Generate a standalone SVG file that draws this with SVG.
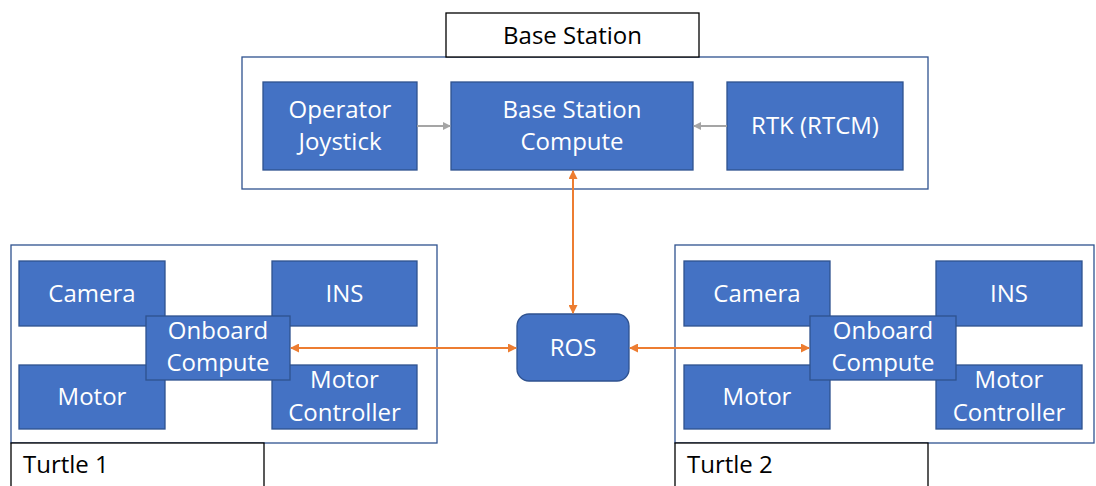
<svg xmlns="http://www.w3.org/2000/svg" width="1096" height="486" viewBox="0 0 1096 486">
<style>
.cont{fill:#fff;stroke:#2F528F;stroke-width:1.3}
.lbl{fill:#fff;stroke:#000;stroke-width:1.3}
.node{fill:#4472C4;stroke:#2F528F;stroke-width:1.3}
.t{font-family:"Open Sans","Noto Sans",sans-serif;font-size:24px;fill:#fff;text-anchor:middle}
.k{font-family:"Open Sans","Noto Sans",sans-serif;font-size:24px;fill:#000}
.g{stroke:#A5A5A5;stroke-width:2;fill:none}
.o{stroke:#ED7D31;stroke-width:2;fill:none}
</style>
<defs>
<marker id="ag" markerWidth="8" markerHeight="8" refX="7" refY="4" orient="auto" markerUnits="userSpaceOnUse"><path d="M0,0 L8,4 L0,8 z" fill="#A5A5A5"/></marker>
<marker id="ao" markerWidth="9" markerHeight="9" refX="8" refY="4.5" orient="auto-start-reverse" markerUnits="userSpaceOnUse"><path d="M0,0 L9,4.5 L0,9 z" fill="#ED7D31"/></marker>
</defs>
<rect width="1096" height="486" fill="#fff"/>

<g id="base-station">
<rect class="cont" x="242" y="57" width="686" height="132"/>
<rect class="lbl" x="446" y="13" width="253" height="44"/>
<text class="k" x="572.5" y="44" text-anchor="middle">Base Station</text>
</g>
<g id="operator-joystick">
<rect class="node" x="263" y="82" width="154" height="88"/>
<text class="t" x="340" y="118">Operator</text>
<text class="t" x="340" y="150">Joystick</text>
</g>
<g id="base-station-compute">
<rect class="node" x="451" y="82" width="242" height="88"/>
<text class="t" x="572" y="118">Base Station</text>
<text class="t" x="572" y="150">Compute</text>
</g>
<g id="rtk">
<rect class="node" x="727" y="82" width="176" height="88"/>
<text class="t" x="815" y="134">RTK (RTCM)</text>
</g>

<g id="turtle-1">
<rect class="cont" x="11" y="245" width="426" height="198"/>
<rect class="lbl" x="11" y="443" width="253" height="50"/>
<text class="k" x="23" y="473">Turtle 1</text>
</g>
<g id="camera-1"><rect class="node" x="19" y="261" width="146" height="65"/><text class="t" x="92" y="302">Camera</text></g>
<g id="ins-1"><rect class="node" x="272" y="261" width="145" height="65"/><text class="t" x="344.5" y="302">INS</text></g>
<g id="motor-1"><rect class="node" x="19" y="365" width="146" height="64"/><text class="t" x="92" y="405">Motor</text></g>
<g id="motor-controller-1"><rect class="node" x="272" y="365" width="145" height="64"/><text class="t" x="344.5" y="388">Motor</text><text class="t" x="344.5" y="421">Controller</text></g>
<g id="onboard-compute-1"><rect class="node" x="146" y="316" width="144" height="64"/><text class="t" x="218" y="339">Onboard</text><text class="t" x="218" y="371">Compute</text></g>

<g id="turtle-2">
<rect class="cont" x="675" y="245" width="419" height="198"/>
<rect class="lbl" x="675" y="443" width="253" height="50"/>
<text class="k" x="687" y="473">Turtle 2</text>
</g>
<g id="camera-2"><rect class="node" x="684" y="261" width="146" height="65"/><text class="t" x="757" y="302">Camera</text></g>
<g id="ins-2"><rect class="node" x="936" y="261" width="146" height="65"/><text class="t" x="1009" y="302">INS</text></g>
<g id="motor-2"><rect class="node" x="684" y="365" width="146" height="64"/><text class="t" x="757" y="405">Motor</text></g>
<g id="motor-controller-2"><rect class="node" x="936" y="365" width="146" height="64"/><text class="t" x="1009" y="388">Motor</text><text class="t" x="1009" y="421">Controller</text></g>
<g id="onboard-compute-2"><rect class="node" x="810" y="316" width="146" height="64"/><text class="t" x="883" y="339">Onboard</text><text class="t" x="883" y="371">Compute</text></g>

<g id="ros">
<rect class="node" x="517" y="314" width="112" height="67" rx="12"/>
<text class="t" x="573" y="356">ROS</text>
</g>

<g id="connectors">
<line class="g" x1="417" y1="126" x2="450" y2="126" marker-end="url(#ag)"/>
<line class="g" x1="727" y1="126" x2="694" y2="126" marker-end="url(#ag)"/>
<line class="o" x1="573" y1="313" x2="573" y2="171" marker-start="url(#ao)" marker-end="url(#ao)"/>
<line class="o" x1="291" y1="348" x2="516" y2="348" marker-start="url(#ao)" marker-end="url(#ao)"/>
<line class="o" x1="630" y1="348" x2="809" y2="348" marker-start="url(#ao)" marker-end="url(#ao)"/>
</g>
</svg>
